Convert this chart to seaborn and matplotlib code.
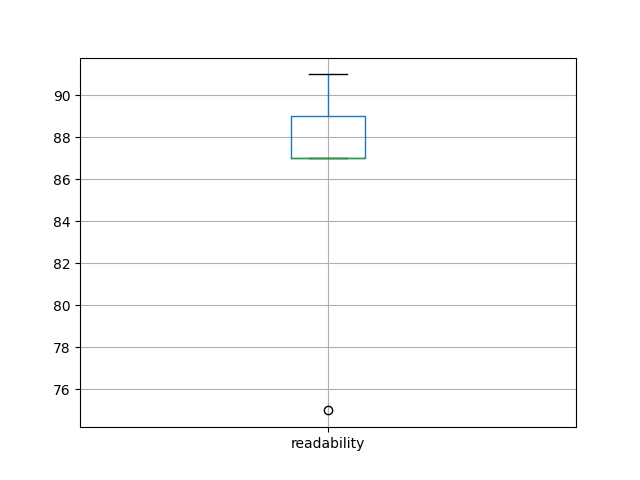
import pandas as pd
import seaborn as sns
import matplotlib.pyplot as plt

# readability scores
readability = [75, 87, 87, 87, 89, 89, 91]

df = pd.DataFrame({'readability': readability})

fig, ax = plt.subplots(figsize=(6.4, 4.8), dpi=100)

sns.boxplot(
    data=df, ax=ax, fill=False, width=0.15, linewidth=1,
    boxprops={'color': 'C0'},
    whiskerprops={'color': 'C0'},
    capprops={'color': 'black'},
    medianprops={'color': 'C2'},
    flierprops={'marker': 'o', 'markeredgecolor': 'black',
                'markerfacecolor': 'none', 'markersize': 6},
)

ax.set_xlim(-0.5, 0.5)
ax.grid(True)
ax.set_axisbelow(True)
ax.set_xlabel('')
ax.set_ylabel('')

plt.savefig('out.png')
